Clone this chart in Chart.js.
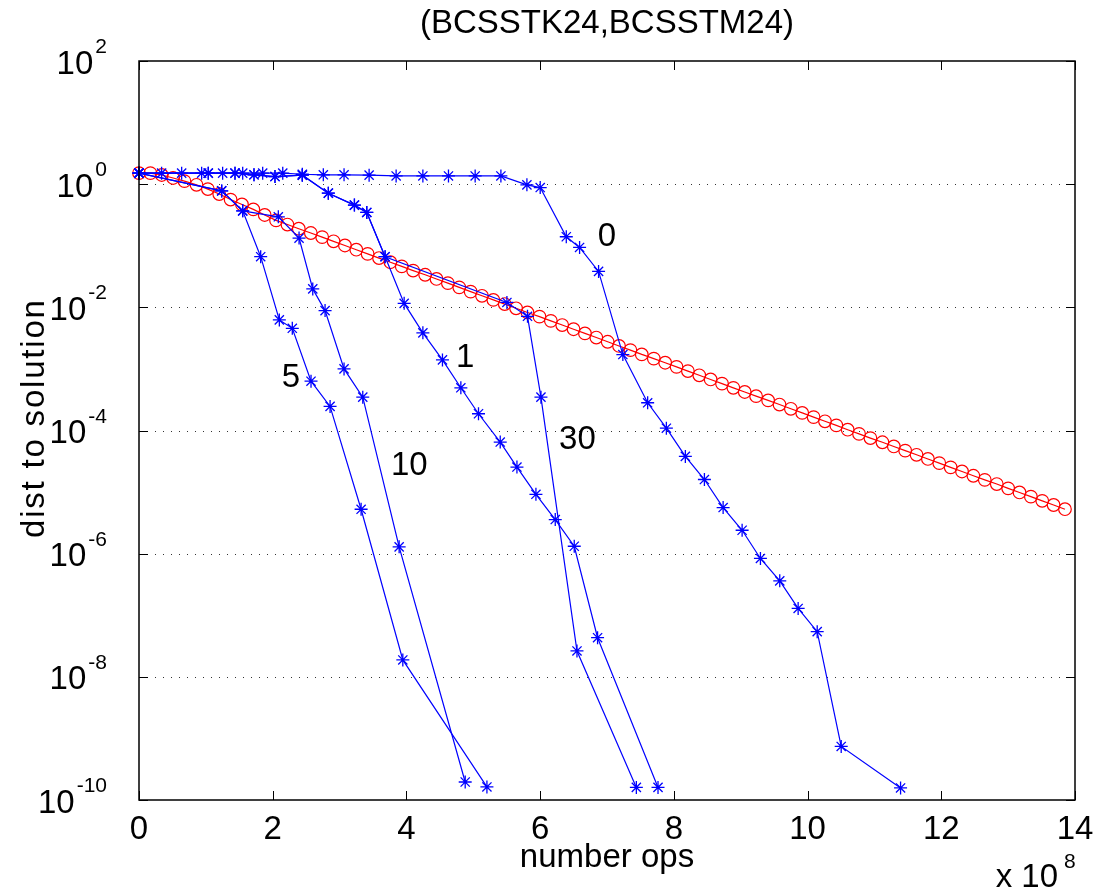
<!doctype html>
<html lang="en">
<head>
<meta charset="utf-8">
<title>(BCSSTK24,BCSSTM24)</title>
<style>
  * { margin: 0; padding: 0; }
  body { background: #ffffff; }
  .chartBox { width: 1098px; height: 894px; }
</style>
</head>
<body>
<div class="chartBox"><canvas id="myChart"></canvas></div>
<script src="https://cdn.jsdelivr.net/npm/chart.js"></script>
<script>
// number ops are in units of 1e8
const refOps = [0, 0.17, 0.34, 0.51, 0.68, 0.86, 1.03, 1.20, 1.37, 1.54, 1.71, 1.88, 2.05, 2.22, 2.39, 2.57,
  2.74, 2.91, 3.08, 3.25, 3.42, 3.59, 3.76, 3.93, 4.10, 4.28, 4.45, 4.62, 4.79, 4.96, 5.13, 5.30, 5.47, 5.64,
  5.81, 5.99, 6.16, 6.33, 6.50, 6.67, 6.84, 7.01, 7.18, 7.35, 7.52, 7.70, 7.87, 8.04, 8.21, 8.38, 8.55, 8.72,
  8.89, 9.06, 9.23, 9.41, 9.58, 9.75, 9.92, 10.09, 10.26, 10.43, 10.60, 10.77, 10.94, 11.12, 11.29, 11.46,
  11.63, 11.80, 11.97, 12.14, 12.31, 12.48, 12.65, 12.83, 13.00, 13.17, 13.34, 13.51, 13.68, 13.85];
const refDist = [1.51, 1.51, 1.41, 1.26, 1.12, 0.977, 0.832, 0.692, 0.562, 0.468, 0.389, 0.316, 0.258, 0.221,
  0.189, 0.161, 0.138, 0.118, 0.101, 0.0863, 0.0738, 0.0631, 0.054, 0.0462, 0.0395, 0.0338, 0.0289, 0.0247,
  0.0211, 0.018, 0.0154, 0.0132, 0.0113, 0.00965, 0.00825, 0.00706, 0.00603, 0.00516, 0.00441, 0.00377,
  0.00323, 0.00276, 0.00236, 0.00202, 0.00172, 0.00147, 0.00126, 0.00108, 9.22e-4, 7.88e-4, 6.74e-4,
  5.77e-4, 4.93e-4, 4.22e-4, 3.61e-4, 3.08e-4, 2.64e-4, 2.25e-4, 1.93e-4, 1.65e-4, 1.41e-4, 1.21e-4,
  1.03e-4, 8.81e-5, 7.53e-5, 6.44e-5, 5.51e-5, 4.71e-5, 4.03e-5, 3.45e-5, 2.95e-5, 2.52e-5, 2.16e-5,
  1.84e-5, 1.58e-5, 1.35e-5, 1.15e-5, 9.86e-6, 8.43e-6, 7.21e-6, 6.17e-6, 5.27e-6];

const ops0 = [0, 0.338, 0.638, 0.937, 1.251, 1.551, 1.850, 2.150, 2.443, 2.757, 3.067, 3.442, 3.846, 4.246,
  4.629, 5.028, 5.413, 5.802, 6.001, 6.391, 6.590, 6.874, 7.237, 7.608, 7.888, 8.172, 8.457, 8.737, 9.021,
  9.295, 9.584, 9.859, 10.144, 10.503, 11.391];
const dist0 = [1.51, 1.51, 1.51, 1.51, 1.51, 1.51, 1.51, 1.51, 1.45, 1.42, 1.42, 1.40, 1.36, 1.36, 1.36, 1.36,
  1.36, 0.975, 0.881, 0.140, 0.0938, 0.0383, 0.00171, 2.82e-4, 1.09e-4, 3.80e-5, 1.60e-5, 5.61e-6, 2.40e-6,
  8.36e-7, 3.62e-7, 1.29e-7, 5.41e-8, 7.40e-10, 1.57e-10];

const ops1 = [0, 1.036, 1.436, 1.720, 2.034, 2.443, 2.832, 3.222, 3.407, 3.681, 3.966, 4.246, 4.539, 4.814,
  5.078, 5.403, 5.653, 5.937, 6.226, 6.510, 6.859, 7.763];
const dist1 = [1.51, 1.51, 1.51, 1.42, 1.33, 1.40, 0.714, 0.457, 0.347, 0.0664, 0.0116, 0.00385, 0.00140,
  4.94e-4, 1.87e-4, 6.49e-5, 2.55e-5, 9.21e-6, 3.58e-6, 1.32e-6, 4.32e-8, 1.60e-10];

const ops5 = [0, 1.237, 1.551, 1.820, 2.099, 2.293, 2.573, 2.858, 3.322, 3.946, 5.204];
const dist5 = [1.51, 0.778, 0.369, 0.0664, 0.00625, 0.00457, 6.32e-4, 2.46e-4, 5.26e-6, 1.88e-8, 1.63e-10];

const ops10 = [0, 1.237, 1.551, 2.084, 2.394, 2.599, 2.783, 3.067, 3.347, 3.891, 4.879];
const dist10 = [1.51, 0.778, 0.369, 0.295, 0.133, 0.0199, 0.00885, 0.00100, 3.48e-4, 1.29e-6, 1.96e-10];

const ops30 = [0, 1.036, 1.436, 1.720, 2.034, 2.443, 2.832, 3.222, 3.407, 3.681, 5.503, 5.811, 6.012, 6.551, 7.439];
const dist30 = [1.51, 1.51, 1.51, 1.42, 1.33, 1.40, 0.714, 0.457, 0.347, 0.0664, 0.0120, 0.00715, 3.48e-4,
  2.63e-8, 1.60e-10];

// curve annotations
const runNames = ['0', '1', '5', '10', '30'];
const runNameOps = [7.0, 4.88, 2.274, 4.043, 6.558];
const runNameDist = [0.155, 1.65e-3, 7.82e-4, 2.90e-5, 7.82e-5];

const xTicks = [0, 2, 4, 6, 8, 10, 12, 14];
const yExps = [2, 0, -2, -4, -6, -8, -10];

const FONT = '"Liberation Sans", Arial, Helvetica, sans-serif';

function pts(xs, ys) {
  return xs.map((x, i) => ({ x: x, y: ys[i] }));
}

function blueRun(xs, ys) {
  return {
    data: pts(xs, ys),
    borderColor: '#0000ff',
    borderWidth: 1.2,
    pointStyle: 'star',
    pointRadius: 6.5,
    pointBorderColor: '#0000ff',
    pointBorderWidth: 1.3,
    showLine: true,
    clip: false
  };
}

// grid, frame, ticks and all text (MATLAB style)
const matlabAxes = {
  id: 'matlabAxes',
  beforeDatasetsDraw(chart) {
    const { ctx, chartArea: a, scales: { y } } = chart;
    ctx.save();
    ctx.strokeStyle = '#333';
    ctx.lineWidth = 1;
    ctx.setLineDash([1, 7]);
    yExps.forEach(e => {
      if (e === 2 || e === -10) return;
      const py = Math.round(y.getPixelForValue(Math.pow(10, e))) + 0.5;
      ctx.beginPath();
      ctx.moveTo(a.left, py);
      ctx.lineTo(a.right, py);
      ctx.stroke();
    });
    ctx.restore();
  },
  afterDraw(chart) {
    const { ctx, chartArea: a, scales: { x, y } } = chart;
    ctx.save();
    ctx.strokeStyle = '#000';
    ctx.lineWidth = 1.5;
    ctx.strokeRect(a.left, a.top, a.right - a.left, a.bottom - a.top);

    // inward ticks
    ctx.lineWidth = 1;
    const tl = 9;
    ctx.beginPath();
    xTicks.forEach(v => {
      const px = Math.round(x.getPixelForValue(v)) + 0.5;
      ctx.moveTo(px, a.bottom); ctx.lineTo(px, a.bottom - tl);
      ctx.moveTo(px, a.top); ctx.lineTo(px, a.top + tl);
    });
    yExps.forEach(e => {
      const py = Math.round(y.getPixelForValue(Math.pow(10, e))) + 0.5;
      ctx.moveTo(a.left, py); ctx.lineTo(a.left + tl, py);
      ctx.moveTo(a.right, py); ctx.lineTo(a.right - tl, py);
    });
    ctx.stroke();

    ctx.fillStyle = '#000';
    ctx.font = '33px ' + FONT;
    ctx.textBaseline = 'alphabetic';

    // x tick labels
    ctx.textAlign = 'center';
    xTicks.forEach(v => {
      ctx.fillText(String(v), x.getPixelForValue(v), a.bottom + 39);
    });

    // y tick labels 10^e
    const right = a.left - 32;
    yExps.forEach(e => {
      const py = y.getPixelForValue(Math.pow(10, e));
      const sup = String(e);
      ctx.font = '21px ' + FONT;
      const supW = ctx.measureText(sup).width;
      ctx.textAlign = 'left';
      ctx.fillText(sup, right - supW, py - 8);
      ctx.font = '33px ' + FONT;
      ctx.textAlign = 'right';
      ctx.fillText('10', right - supW - 2, py + 12.5);
    });

    // titles
    ctx.font = '33px ' + FONT;
    ctx.textAlign = 'center';
    const cx = (a.left + a.right) / 2;
    ctx.fillText('(BCSSTK24,BCSSTM24)', cx, 33);
    ctx.fillText('number ops', cx, a.bottom + 67);

    ctx.textAlign = 'right';
    ctx.fillText('x 10', 1058, a.bottom + 87);
    ctx.font = '21px ' + FONT;
    ctx.textAlign = 'left';
    ctx.fillText('8', 1064, a.bottom + 68);

    ctx.save();
    ctx.translate(44, 538);
    ctx.rotate(-Math.PI / 2);
    ctx.font = '33px ' + FONT;
    ctx.letterSpacing = '1.8px';
    ctx.textAlign = 'left';
    ctx.fillText('dist to solution', 0, 0);
    ctx.restore();

    // curve labels
    ctx.font = '33px ' + FONT;
    ctx.textAlign = 'center';
    runNames.forEach((t, i) => {
      ctx.fillText(t, x.getPixelForValue(runNameOps[i]), y.getPixelForValue(runNameDist[i]) + 11.8);
    });
    ctx.restore();
  }
};

const data = {
  datasets: [
    blueRun(ops0, dist0),
    blueRun(ops1, dist1),
    blueRun(ops5, dist5),
    blueRun(ops10, dist10),
    blueRun(ops30, dist30),
    {
      data: pts(refOps, refDist),
      borderColor: '#ff0000',
      borderWidth: 1.2,
      pointStyle: 'circle',
      pointRadius: 6.3,
      pointBorderColor: '#ff0000',
      pointBackgroundColor: 'rgba(0,0,0,0)',
      pointBorderWidth: 1.2,
      showLine: true,
      clip: false
    }
  ]
};

const config = {
  type: 'scatter',
  data,
  options: {
    responsive: true,
    maintainAspectRatio: false,
    animation: false,
    layout: { padding: { left: 139, right: 23, top: 61, bottom: 94 } },
    plugins: { legend: { display: false }, tooltip: { enabled: false }, title: { display: false } },
    scales: {
      x: { type: 'linear', min: 0, max: 14, display: false },
      y: { type: 'logarithmic', min: 1e-10, max: 100, display: false }
    }
  },
  plugins: [matlabAxes]
};

const myChart = new Chart(document.getElementById('myChart'), config);
</script>
</body>
</html>
